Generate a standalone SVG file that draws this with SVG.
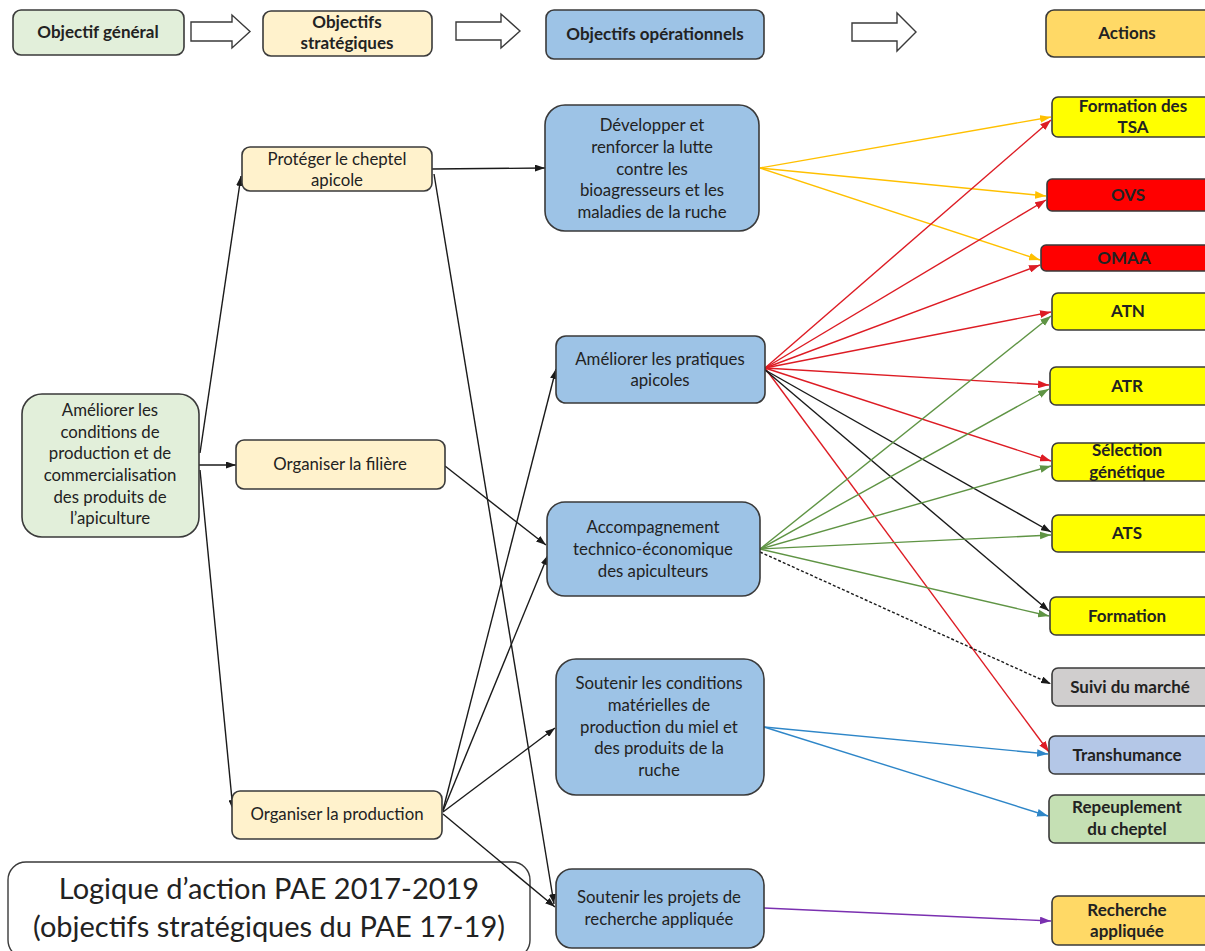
<svg xmlns="http://www.w3.org/2000/svg" width="1205" height="951" viewBox="0 0 1205 951">
<defs>
<style>
text{font-family:Lato,"Open Sans","Noto Sans",sans-serif;fill:#222;text-anchor:middle}
.n{font-size:16.8px}
.b{font-size:17px;font-weight:bold}
.t{font-size:29px}
.box{stroke:#3a3a3a;stroke-width:1.6}
.g{fill:#e2efda}.y{fill:#fff2cc}.bl{fill:#9dc3e6}.gold{fill:#ffd966}.ye{fill:#ffff00}.rd{fill:#ff0000}.gr{fill:#d0cece}.lb{fill:#b4c7e7}.lg{fill:#c5e0b4}
.c{fill:none;stroke-width:1.4}
.k{stroke:#1a1a1a}.cy{stroke:#ffc000}.cr{stroke:#dd1c24}.cg{stroke:#5f9444}.cb{stroke:#2e86c8}.cp{stroke:#7a30b0}
.hol{fill:#fff;stroke:#3a3a3a;stroke-width:1.4}
</style>
<marker id="ak" viewBox="0 0 10 7" refX="10" refY="3.5" markerWidth="10" markerHeight="7" markerUnits="userSpaceOnUse" orient="auto"><path d="M0,0L10,3.5L0,7z" fill="#1a1a1a"/></marker>
<marker id="ay" viewBox="0 0 10 7" refX="10" refY="3.5" markerWidth="11" markerHeight="8" markerUnits="userSpaceOnUse" orient="auto"><path d="M0,0L10,3.5L0,7z" fill="#ffc000"/></marker>
<marker id="ar" viewBox="0 0 10 7" refX="10" refY="3.5" markerWidth="11" markerHeight="8" markerUnits="userSpaceOnUse" orient="auto"><path d="M0,0L10,3.5L0,7z" fill="#dd1c24"/></marker>
<marker id="ag" viewBox="0 0 10 7" refX="10" refY="3.5" markerWidth="11" markerHeight="8" markerUnits="userSpaceOnUse" orient="auto"><path d="M0,0L10,3.5L0,7z" fill="#5f9444"/></marker>
<marker id="ab" viewBox="0 0 10 7" refX="10" refY="3.5" markerWidth="11" markerHeight="8" markerUnits="userSpaceOnUse" orient="auto"><path d="M0,0L10,3.5L0,7z" fill="#2e86c8"/></marker>
<marker id="ap" viewBox="0 0 10 7" refX="10" refY="3.5" markerWidth="11" markerHeight="8" markerUnits="userSpaceOnUse" orient="auto"><path d="M0,0L10,3.5L0,7z" fill="#7a30b0"/></marker>
</defs>
<rect width="1205" height="951" fill="#fff"/>

<g id="title"><rect x="8" y="862" width="522" height="96" rx="18" fill="#fff" stroke="#3a3a3a" stroke-width="1.4"/>
<text class="t"><tspan x="269" y="899">Logique d’action PAE 2017-2019</tspan><tspan x="269" y="937">(objectifs stratégiques du PAE 17-19)</tspan></text></g>

<g id="header">
<g id="h-general"><rect class="box g" x="13" y="10" width="171" height="45" rx="8"/><text class="b" x="98" y="38">Objectif général</text></g>
<polygon class="hol" points="191,22 232,22 232,15 250,31.5 232,48 232,41 191,41"/>
<g id="h-strat"><rect class="box y" x="263" y="11" width="169" height="45" rx="8"/><text class="b" x="347" y="28">Objectifs</text><text class="b" x="347" y="49">stratégiques</text></g>
<polygon class="hol" points="456,22 501,22 501,14 520,31 501,48 501,40 456,40"/>
<g id="h-oper"><rect class="box bl" x="546" y="10" width="218" height="49" rx="8"/><text class="b" x="655" y="40">Objectifs opérationnels</text></g>
<polygon class="hol" points="852,23 897,23 897,13 916,32 897,51 897,41 852,41"/>
<g id="h-actions"><rect class="box gold" x="1046" y="10" width="170" height="47" rx="8"/><text class="b" x="1127" y="39">Actions</text></g>
</g>

<g id="connectors">
<line class="c k" x1="200" y1="453" x2="241" y2="176" marker-end="url(#ak)"/>
<line class="c k" x1="199" y1="465" x2="236" y2="465" marker-end="url(#ak)"/>
<line class="c k" x1="200" y1="470" x2="233" y2="810" marker-end="url(#ak)"/>
<line class="c k" x1="432" y1="169" x2="545" y2="168" marker-end="url(#ak)"/>
<line class="c k" x1="434" y1="174" x2="554" y2="904" marker-end="url(#ak)"/>
<line class="c k" x1="445" y1="466" x2="546" y2="545" marker-end="url(#ak)"/>
<line class="c k" x1="443" y1="810" x2="556" y2="369" marker-end="url(#ak)"/>
<line class="c k" x1="443" y1="811" x2="548" y2="555" marker-end="url(#ak)"/>
<line class="c k" x1="443" y1="812" x2="555" y2="728" marker-end="url(#ak)"/>
<line class="c k" x1="443" y1="814" x2="555" y2="907" marker-end="url(#ak)"/>

<line class="c cy" x1="760" y1="168" x2="1051" y2="117" marker-end="url(#ay)"/>
<line class="c cy" x1="760" y1="168" x2="1046" y2="196" marker-end="url(#ay)"/>
<line class="c cy" x1="760" y1="168" x2="1040" y2="260" marker-end="url(#ay)"/>

<line class="c cr" x1="765" y1="368" x2="1051" y2="120" marker-end="url(#ar)"/>
<line class="c cr" x1="765" y1="368" x2="1046" y2="200" marker-end="url(#ar)"/>
<line class="c cr" x1="765" y1="368" x2="1040" y2="265" marker-end="url(#ar)"/>
<line class="c cr" x1="765" y1="368" x2="1051" y2="312" marker-end="url(#ar)"/>
<line class="c cr" x1="765" y1="368" x2="1049" y2="385" marker-end="url(#ar)"/>
<line class="c cr" x1="765" y1="368" x2="1051" y2="461" marker-end="url(#ar)"/>
<line class="c cr" x1="765" y1="368" x2="1049" y2="752" marker-end="url(#ar)"/>

<line class="c k" x1="765" y1="370" x2="1051" y2="532" marker-end="url(#ak)"/>
<line class="c k" x1="765" y1="370" x2="1049" y2="611" marker-end="url(#ak)"/>

<line class="c cg" x1="760" y1="549" x2="1051" y2="316" marker-end="url(#ag)"/>
<line class="c cg" x1="760" y1="549" x2="1049" y2="389" marker-end="url(#ag)"/>
<line class="c cg" x1="760" y1="549" x2="1051" y2="466" marker-end="url(#ag)"/>
<line class="c cg" x1="760" y1="549" x2="1051" y2="535" marker-end="url(#ag)"/>
<line class="c cg" x1="760" y1="549" x2="1049" y2="616" marker-end="url(#ag)"/>

<line class="c k" x1="760" y1="552" x2="1051" y2="684" stroke-dasharray="3,2" marker-end="url(#ak)"/>

<line class="c cb" x1="764" y1="727" x2="1048" y2="754" marker-end="url(#ab)"/>
<line class="c cb" x1="764" y1="727" x2="1048" y2="816" marker-end="url(#ab)"/>
<line class="c cp" x1="764" y1="908" x2="1051" y2="921" marker-end="url(#ap)"/>
</g>

<g id="n-ameliorer-cond"><rect class="box g" x="22" y="394" width="177" height="143" rx="20"/>
<text class="n"><tspan x="110" y="416">Améliorer les</tspan><tspan x="110" y="438">conditions de</tspan><tspan x="110" y="459">production et de</tspan><tspan x="110" y="481">commercialisation</tspan><tspan x="110" y="503">des produits de</tspan><tspan x="110" y="524">l’apiculture</tspan></text></g>

<g id="n-proteger"><rect class="box y" x="242" y="147" width="190" height="44" rx="8"/>
<text class="n"><tspan x="337" y="165">Protéger le cheptel</tspan><tspan x="337" y="186">apicole</tspan></text></g>
<g id="n-filiere"><rect class="box y" x="236" y="440" width="209" height="49" rx="8"/><text class="n" x="340" y="470">Organiser la filière</text></g>
<g id="n-production"><rect class="box y" x="232" y="791" width="210" height="48" rx="8"/><text class="n" x="337" y="820">Organiser la production</text></g>

<g id="n-developper"><rect class="box bl" x="545" y="105" width="214" height="126" rx="20"/>
<text class="n"><tspan x="652" y="131">Développer et</tspan><tspan x="652" y="153">renforcer la lutte</tspan><tspan x="652" y="175">contre les</tspan><tspan x="652" y="196">bioagresseurs et les</tspan><tspan x="652" y="218">maladies de la ruche</tspan></text></g>
<g id="n-pratiques"><rect class="box bl" x="556" y="336" width="209" height="67" rx="10"/>
<text class="n"><tspan x="660" y="365">Améliorer les pratiques</tspan><tspan x="660" y="386">apicoles</tspan></text></g>
<g id="n-accomp"><rect class="box bl" x="547" y="502" width="213" height="94" rx="18"/>
<text class="n"><tspan x="653" y="533">Accompagnement</tspan><tspan x="653" y="555">technico-économique</tspan><tspan x="653" y="577">des apiculteurs</tspan></text></g>
<g id="n-soutenir-cond"><rect class="box bl" x="556" y="659" width="208" height="136" rx="20"/>
<text class="n"><tspan x="659" y="689">Soutenir les conditions</tspan><tspan x="659" y="711">matérielles de</tspan><tspan x="659" y="733">production du miel et</tspan><tspan x="659" y="754">des produits de la</tspan><tspan x="659" y="776">ruche</tspan></text></g>
<g id="n-soutenir-rech"><rect class="box bl" x="556" y="869" width="208" height="79" rx="16"/>
<text class="n"><tspan x="659" y="903">Soutenir les projets de</tspan><tspan x="659" y="925">recherche appliquée</tspan></text></g>

<g id="a-tsa"><rect class="box ye" x="1052" y="97" width="162" height="40" rx="6"/><text class="b"><tspan x="1133" y="112">Formation des</tspan><tspan x="1133" y="133">TSA</tspan></text></g>
<g id="a-ovs"><rect class="box rd" x="1047" y="179" width="165" height="32" rx="5"/><text class="b" x="1128" y="201">OVS</text></g>
<g id="a-omaa"><rect class="box rd" x="1041" y="245" width="170" height="26" rx="5"/><text class="b" x="1124" y="264">OMAA</text></g>
<g id="a-atn"><rect class="box ye" x="1052" y="293" width="162" height="37" rx="6"/><text class="b" x="1128" y="317">ATN</text></g>
<g id="a-atr"><rect class="box ye" x="1050" y="367" width="164" height="38" rx="6"/><text class="b" x="1127" y="392">ATR</text></g>
<g id="a-selection"><rect class="box ye" x="1052" y="443" width="162" height="38" rx="6"/><text class="b"><tspan x="1127" y="456">Sélection</tspan><tspan x="1127" y="478">génétique</tspan></text></g>
<g id="a-ats"><rect class="box ye" x="1052" y="515" width="162" height="37" rx="6"/><text class="b" x="1127" y="539">ATS</text></g>
<g id="a-formation"><rect class="box ye" x="1050" y="597" width="164" height="38" rx="6"/><text class="b" x="1127" y="622">Formation</text></g>
<g id="a-suivi"><rect class="box gr" x="1052" y="668" width="162" height="38" rx="6"/><text class="b" x="1130" y="693">Suivi du marché</text></g>
<g id="a-transhumance"><rect class="box lb" x="1049" y="736" width="165" height="38" rx="6"/><text class="b" x="1127" y="761">Transhumance</text></g>
<g id="a-repeuplement"><rect class="box lg" x="1049" y="795" width="165" height="48" rx="6"/><text class="b"><tspan x="1127" y="813">Repeuplement</tspan><tspan x="1127" y="835">du cheptel</tspan></text></g>
<g id="a-recherche"><rect class="box gold" x="1052" y="896" width="162" height="49" rx="6"/><text class="b"><tspan x="1127" y="916">Recherche</tspan><tspan x="1127" y="937">appliquée</tspan></text></g>
</svg>
